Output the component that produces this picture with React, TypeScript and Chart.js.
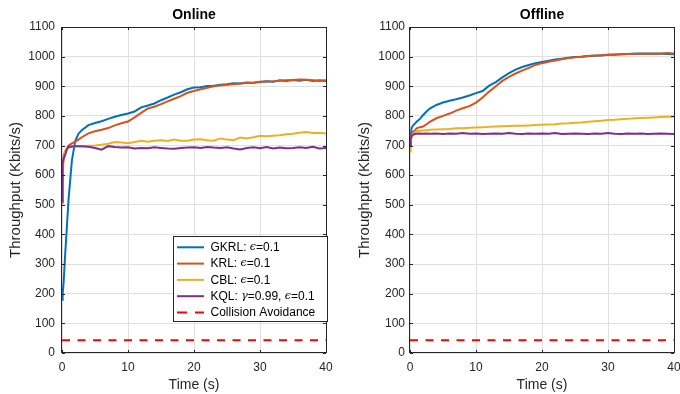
import React, { useEffect, useRef } from 'react';
import { Chart, registerables } from 'chart.js';

Chart.register(...registerables);

// ---------- data ----------
const times = [0, 0.1, 0.25, 0.5, 0.75, 1, 1.5, 2, 2.5, 3, 4, 5, 6, 7, 8, 9, 10, 11, 12, 13, 14, 15, 16, 17, 18, 19, 20, 21, 22, 23, 24, 25, 26, 27, 28, 29, 30, 31, 32, 33, 34, 35, 36, 37, 38, 39, 40];

const onlineGKRL = [180, 200, 240, 340, 430, 520, 650, 715, 740, 752, 769, 776, 782, 790, 797, 803, 808, 815, 829, 835, 842, 853, 862, 872, 880, 890, 896, 897, 901, 902, 905, 907, 910, 909, 913, 912, 915, 917, 915, 920, 918, 921, 919, 922, 918, 920, 918];
const onlineKRL = [580, 640, 665, 682, 692, 700, 707, 713, 720, 728, 741, 748, 753, 759, 768, 775, 781, 795, 810, 825, 831, 840, 849, 858, 867, 878, 884, 890, 895, 900, 903, 905, 907, 909, 911, 912, 914, 916, 917, 919, 920, 921, 923, 922, 920, 918, 920];
const onlineCBL = [500, 600, 650, 682, 690, 693, 696, 698, 698, 697, 699, 700, 703, 706, 712, 710, 708, 712, 716, 713, 716, 718, 715, 720, 716, 716, 720, 721, 718, 716, 724, 720, 718, 727, 724, 728, 733, 731, 733, 735, 738, 740, 743, 746, 742, 743, 741];
const onlineKQL = [510, 640, 655, 670, 688, 695, 697, 698, 698, 698, 696, 692, 686, 698, 695, 693, 694, 690, 692, 691, 694, 692, 690, 689, 692, 693, 694, 692, 695, 693, 692, 694, 690, 687, 692, 694, 691, 695, 690, 693, 691, 692, 694, 692, 696, 690, 692];

const offlineGKRL = [700, 730, 760, 769, 774, 780, 790, 803, 815, 825, 837, 845, 851, 856, 862, 869, 877, 884, 902, 914, 930, 944, 956, 965, 972, 978, 982, 986, 990, 993, 996, 999, 1000, 1002, 1003, 1004, 1006, 1006, 1008, 1009, 1010, 1011, 1010, 1011, 1010, 1009, 1008];
const offlineKRL = [700, 720, 740, 747, 752, 758, 762, 764, 772, 780, 792, 800, 808, 818, 826, 833, 845, 862, 882, 900, 918, 932, 943, 953, 962, 972, 978, 983, 987, 991, 995, 998, 1000, 1002, 1004, 1005, 1006, 1007, 1008, 1009, 1010, 1010, 1011, 1010, 1011, 1012, 1011];
const offlineCBL = [680, 710, 730, 740, 745, 748, 750, 751, 752, 753, 754, 755, 756, 758, 758, 760, 761, 762, 763, 764, 765, 766, 767, 767, 768, 769, 770, 771, 772, 774, 775, 777, 778, 780, 782, 784, 786, 787, 789, 790, 792, 793, 794, 795, 796, 797, 797];
const offlineKQL = [700, 722, 732, 737, 739, 740, 741, 740, 741, 740, 741, 739, 741, 740, 742, 740, 741, 739, 740, 741, 740, 742, 740, 739, 741, 740, 741, 740, 742, 739, 740, 741, 740, 739, 741, 740, 742, 740, 739, 741, 740, 741, 739, 740, 741, 740, 739];

const collisionTimes = [0, 40];
const collisionValues = [43, 43];

const xTickValues = [0, 10, 20, 30, 40];
const yTickValues = [0, 100, 200, 300, 400, 500, 600, 700, 800, 900, 1000, 1100];

const seriesLabels = ['GKRL: ϵ=0.1', 'KRL: ϵ=0.1', 'CBL: ϵ=0.1', 'KQL: γ=0.99, ϵ=0.1', 'Collision Avoidance'];
const panelTitles = ['Online', 'Offline'];
const xAxisTitle = 'Time (s)';
const yAxisTitle = 'Throughput (Kbits/s)';

// ---------- styles ----------
const COLORS = ['#0072BD', '#D95319', '#EDB120', '#7E2F8E', '#FF0000'];
const FONT = "'Liberation Sans', Arial, Helvetica, sans-serif";
const MATH_FONT = "'DejaVu Serif', 'Liberation Serif', serif";
const AXIS_COLOR = '#262626';
const GRID_COLOR = '#e0e0e0';

const toPoints = (xs: number[], ys: number[]) => xs.map((x, i) => ({ x, y: ys[i] }));

const framePlugin = {
  id: 'matlabFrame',
  afterDraw(chart: any, _args: any, opts: any) {
    const { ctx, chartArea } = chart;
    const { left, right, top, bottom } = chartArea;
    const xs = chart.scales.x;
    const ys = chart.scales.y;
    ctx.save();
    ctx.strokeStyle = AXIS_COLOR;
    ctx.lineWidth = 1;
    // inward tick marks
    ctx.beginPath();
    const tl = 3;
    yTickValues.forEach((v) => {
      const y = Math.round(ys.getPixelForValue(v)) + 0.5;
      ctx.moveTo(left, y);
      ctx.lineTo(left + tl, y);
      ctx.moveTo(right, y);
      ctx.lineTo(right - tl, y);
    });
    xTickValues.forEach((v) => {
      const x = Math.round(xs.getPixelForValue(v)) + 0.5;
      ctx.moveTo(x, bottom);
      ctx.lineTo(x, bottom - tl);
      ctx.moveTo(x, top);
      ctx.lineTo(x, top + tl);
    });
    ctx.stroke();
    // box
    ctx.strokeRect(Math.round(left) - 0.5, Math.round(top) + 0.5, Math.round(right - left) + 1, Math.round(bottom - top) - 1);

    // legend
    const lg = opts.legend;
    if (lg) {
      const bx = lg.x;
      const by = lg.y;
      ctx.fillStyle = '#ffffff';
      ctx.fillRect(bx, by, lg.w, lg.h);
      ctx.strokeStyle = AXIS_COLOR;
      ctx.lineWidth = 1;
      ctx.strokeRect(bx + 0.5, by + 0.5, lg.w - 1, lg.h - 1);
      seriesLabels.forEach((label, i) => {
        const y = by + lg.firstRow + i * lg.rowGap;
        ctx.save();
        ctx.strokeStyle = COLORS[i];
        ctx.lineWidth = 2;
        if (i === 4) ctx.setLineDash([10, 8]);
        ctx.beginPath();
        ctx.moveTo(bx + lg.lineStart, y);
        ctx.lineTo(bx + lg.lineEnd, y);
        ctx.stroke();
        ctx.restore();
        let tx = bx + lg.textStart;
        ctx.fillStyle = '#000000';
        ctx.textBaseline = 'middle';
        ctx.textAlign = 'left';
        for (const ch of Array.from(label)) {
          const isMath = ch === 'ϵ' || ch === 'γ';
          ctx.font = isMath ? `italic 11px ${MATH_FONT}` : `12px ${FONT}`;
          ctx.fillText(ch, tx, y + (isMath ? 0 : 0.5));
          tx += ctx.measureText(ch).width;
        }
      });
    }
    ctx.restore();
  },
};

function makeConfig(panel: number, series: number[][], yAxisWidth: number, rightPad: number, yTickPad: number, yTitlePad: number, legend: any) {
  const datasets: any[] = series.map((vals, i) => ({
    label: seriesLabels[i],
    data: toPoints(times, vals),
    borderColor: COLORS[i],
    backgroundColor: COLORS[i],
    borderWidth: 2,
    pointRadius: 0,
    tension: 0,
    fill: false,
    order: 10 - i,
  }));
  datasets.push({
    label: seriesLabels[4],
    data: toPoints(collisionTimes, collisionValues),
    borderColor: COLORS[4],
    backgroundColor: COLORS[4],
    borderWidth: 2,
    borderDash: [8, 7.5],
    pointRadius: 0,
    fill: false,
    order: 1,
  });

  return {
    type: 'line',
    data: { datasets },
    plugins: [framePlugin],
    options: {
      animation: false,
      responsive: false,
      devicePixelRatio: 1,
      events: [],
      layout: { padding: { left: 0, right: rightPad, top: 0, bottom: 0 } },
      plugins: {
        legend: { display: false },
        tooltip: { enabled: false },
        title: {
          display: true,
          text: panelTitles[panel],
          fullSize: false,
          color: '#000000',
          font: { family: FONT, size: 14, weight: 'bold', lineHeight: 1.2 },
          padding: { top: 7, bottom: 3.2 },
        },
        matlabFrame: { legend },
      },
      scales: {
        x: {
          type: 'linear',
          min: 0,
          max: 40,
          afterBuildTicks: (scale: any) => {
            scale.ticks = xTickValues.map((v) => ({ value: v }));
          },
          afterFit: (scale: any) => {
            scale.height = 41;
          },
          ticks: {
            color: AXIS_COLOR,
            font: { family: FONT, size: 12 },
            padding: 7,
            maxRotation: 0,
            autoSkip: false,
            callback: (v: any) => String(v),
          },
          grid: { color: GRID_COLOR, drawTicks: false, lineWidth: 1 },
          border: { display: false },
          title: {
            display: true,
            text: xAxisTitle,
            color: AXIS_COLOR,
            font: { family: FONT, size: 14 },
            padding: { top: 0, bottom: 0 },
          },
        },
        y: {
          type: 'linear',
          min: 0,
          max: 1100,
          afterBuildTicks: (scale: any) => {
            scale.ticks = yTickValues.map((v) => ({ value: v }));
          },
          afterFit: (scale: any) => {
            scale.width = yAxisWidth;
          },
          ticks: {
            color: AXIS_COLOR,
            font: { family: FONT, size: 12 },
            padding: yTickPad,
            autoSkip: false,
            callback: (v: any) => String(v),
          },
          grid: { color: GRID_COLOR, drawTicks: false, lineWidth: 1 },
          border: { display: false },
          title: {
            display: true,
            text: yAxisTitle,
            color: AXIS_COLOR,
            font: { family: FONT, size: 15 },
            padding: { top: yTitlePad, bottom: 0 },
          },
        },
      },
    },
  };
}

function Panel(props: { left: number; width: number; build: () => any }) {
  const ref = useRef<HTMLCanvasElement | null>(null);
  useEffect(() => {
    const chart = new Chart(ref.current as HTMLCanvasElement, props.build());
    return () => chart.destroy();
  }, []);
  return (
    <div style={{ position: 'absolute', left: props.left, top: 0, width: props.width, height: 394 }}>
      <canvas ref={ref} width={props.width} height={394} style={{ width: props.width, height: 394, display: 'block' }} />
    </div>
  );
}

export default function App() {
  useEffect(() => {
    document.body.style.margin = '0';
  }, []);
  return (
    <div style={{ position: 'absolute', left: 0, top: 0, width: 680, height: 394, overflow: 'hidden', background: '#ffffff' }}>
      <Panel
        left={0}
        width={340}
        build={() =>
          makeConfig(0, [onlineGKRL, onlineKRL, onlineCBL, onlineKQL], 62, 14, 7, 7, {
            x: 173, y: 236, w: 155, h: 86, firstRow: 11.3, rowGap: 16.3, lineStart: 4, lineEnd: 31, textStart: 37.5,
          })
        }
      />
      <Panel
        left={340}
        width={350}
        build={() =>
          makeConfig(1, [offlineGKRL, offlineKRL, offlineCBL, offlineKQL], 70, 16, 5, 16, {
            x: 522, y: 232, w: 153, h: 85, firstRow: 10.5, rowGap: 16.2, lineStart: 4, lineEnd: 31, textStart: 36.5,
          })
        }
      />
    </div>
  );
}
